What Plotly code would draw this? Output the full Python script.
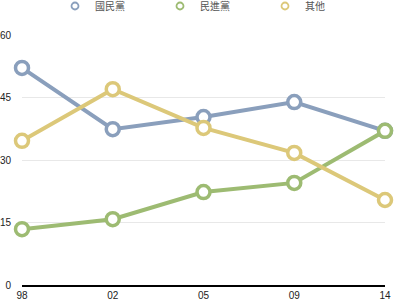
import plotly.graph_objects as go

years = ["98", "02", "05", "09", "14"]
kmt = [52.1, 37.4, 40.3, 43.9, 37.0]
dpp = [13.4, 15.8, 22.3, 24.5, 37.0]
other = [34.6, 47.0, 37.7, 31.7, 20.4]
names = ["國民黨", "民進黨", "其他"]
colors = ["#8a9fbc", "#9dbb72", "#dcc879"]
y_ticks = [0, 15, 30, 45, 60]

xs = list(range(len(years)))
fig = go.Figure()
for name, vals, col in zip(names, [kmt, dpp, other], colors):
    fig.add_trace(go.Scatter(
        x=xs, y=vals, mode="lines+markers", showlegend=False, cliponaxis=False,
        line=dict(color=col, width=4),
        marker=dict(size=13, color="white", line=dict(color=col, width=3.5)),
    ))
for name, col in zip(names, colors):
    fig.add_trace(go.Scatter(
        x=[None], y=[None], mode="markers", name=name,
        marker=dict(size=7, color="white", line=dict(color=col, width=1.8)),
    ))

fig.update_layout(
    width=394, height=300,
    margin=dict(l=22, r=9, t=35, b=15, autoexpand=False),
    paper_bgcolor="white", plot_bgcolor="white",
    font=dict(family="Liberation Sans, Noto Sans CJK TC, sans-serif", size=10, color="#222"),
    legend=dict(orientation="h", x=55 / 394, xanchor="left", xref="container",
                y=1 - 6 / 300, yanchor="middle", yref="container", entrywidth=60,
                entrywidthmode="pixels",
                font=dict(size=10, color="#555"), itemwidth=30, tracegroupgap=0),
    xaxis=dict(range=[0, 4], tickvals=xs, ticktext=years, showgrid=False, zeroline=False,
               automargin=False,
               showline=True, linecolor="black", linewidth=1.5, ticks="", fixedrange=True),
    yaxis=dict(range=[0, 60], tickvals=y_ticks, showgrid=True, gridcolor="#e8e8e8",
               automargin=False,
               gridwidth=1, zeroline=False, showline=False, ticks="", ticklabelstandoff=10),
)
fig.write_html("out.html")
